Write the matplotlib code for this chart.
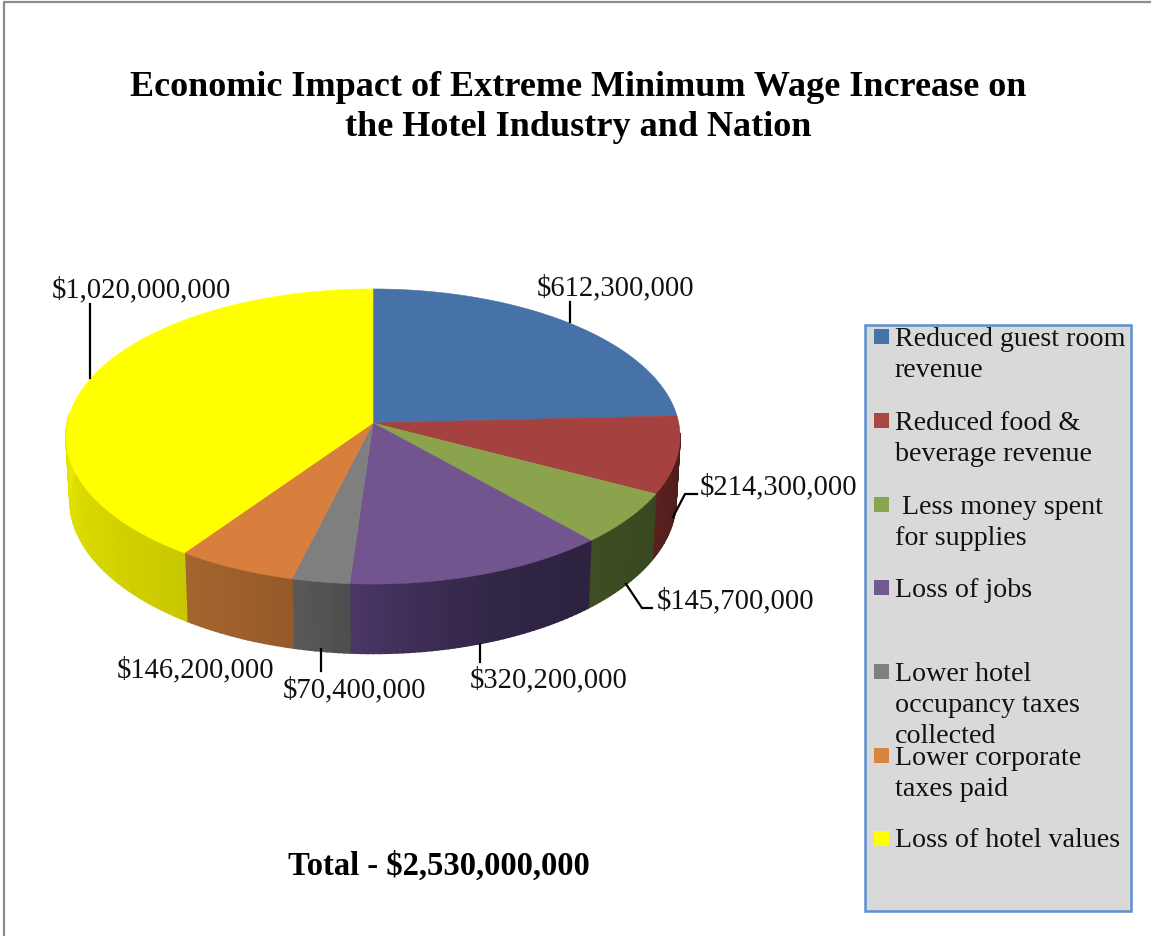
import numpy as np
import matplotlib
matplotlib.use("Agg")
import matplotlib.pyplot as plt
from matplotlib.patches import Rectangle

# Chart data
values = [612300000, 214300000, 145700000, 320200000, 70400000, 146200000, 1020000000]
legend_lines = [
    ["Reduced guest room", "revenue"],
    ["Reduced food &", "beverage revenue"],
    [" Less money spent", "for supplies"],
    ["Loss of jobs"],
    ["Lower hotel", "occupancy taxes", "collected"],
    ["Lower corporate", "taxes paid"],
    ["Loss of hotel values"],
]
title_lines = ["Economic Impact of Extreme Minimum Wage Increase on",
               "the Hotel Industry and Nation"]
total_label = "Total - $2,530,000,000"

# Colours
top_colors = ["#4672a8", "#a5413f", "#8aa34c", "#72548f", "#7f7f7f", "#d97f3d", "#ffff00"]
key_colors = ["#4572a7", "#aa4643", "#89a54e", "#71588f", "#808080", "#db843d", "#ffff00"]
wall_colors = [("#27405f", "#27405f"), ("#4a1c1b", "#5a201f"), ("#384820", "#3f4d22"),
               ("#2d2340", "#4b3768"), ("#4d4d4d", "#5a5a5a"), ("#95592a", "#a5652e"),
               ("#c8c800", "#e8e800")]
wall_bend = [1, 1, 1, 2, 1, 1, 1]

# Pie geometry in pixels, with the perspective of the tilted disc
cx, cy = 373, 424
persp = 0.0915
rx, ry = 305.7, 146.3
depth = 63
base_shrink = 0.987
wall_from, wall_to = np.radians(94), np.radians(274)


def rim(theta, lower=False):
    u, v = np.sin(theta), np.cos(theta)
    w = 1 + persp * v
    x = rx * u / w
    y = ry * v / w
    if lower:
        return cx + x * base_shrink, cy - y + depth / w
    return cx + x, cy - y


def mix(c1, c2, t):
    a, b = np.array(matplotlib.colors.to_rgb(c1)), np.array(matplotlib.colors.to_rgb(c2))
    return a + (b - a) * t


fig = plt.figure(figsize=(11.51, 9.37), dpi=100)
ax = fig.add_axes([0, 0, 1, 1])
ax.set_xlim(0, 1151)
ax.set_ylim(937, 0)
ax.axis("off")

plt.rcParams["font.family"] = ["Liberation Serif", "DejaVu Serif"]
ink = "#111111"

# Outer frame, only top and left edges show
ax.plot([4, 4, 1151], [937, 3, 3], color="#8c8c8c", lw=1.6)

fractions = np.array(values) / np.sum(values)
edges = np.concatenate([[0], np.cumsum(fractions)]) * 2 * np.pi

# Side walls first, only the front of the disc shows one
for i in range(len(values)):
    a, b = max(edges[i], wall_from), min(edges[i + 1], wall_to)
    if a >= b:
        continue
    n = max(int(np.degrees(b - a)), 2)
    ts = np.linspace(a, b, n + 1)
    for j in range(n):
        x0, y0 = rim(ts[j])
        x1, y1 = rim(ts[j + 1])
        x2, y2 = rim(ts[j + 1], True)
        x3, y3 = rim(ts[j], True)
        col = mix(wall_colors[i][0], wall_colors[i][1], ((j + 0.5) / n) ** wall_bend[i])
        ax.fill([x0, x1, x2, x3], [y0, y1, y2, y3], color=col, lw=1.2, zorder=2)

# Top faces
for i in range(len(values)):
    ts = np.linspace(edges[i], edges[i + 1], 200)
    xs, ys = rim(ts)
    ax.fill(np.r_[cx, xs], np.r_[cy, ys], color=top_colors[i], lw=0.4, zorder=3)

# Value labels and leader lines
label_pos = [(616, 288), (779, 487), (736, 601), (549, 680), (355, 690), (196, 670), (141, 290)]
leaders = [
    ([570, 570], [323, 303]),
    ([673, 685, 697], [518, 495, 495]),
    ([626, 642, 652], [585, 609, 609]),
    ([480, 480], [645, 663]),
    ([321, 321], [650, 672]),
    None,
    ([90, 90], [379, 305]),
]
for v, (lx, ly), lead in zip(values, label_pos, leaders):
    ax.text(lx, ly, f"${v:,}", ha="center", va="center", fontsize=20.6, color=ink, zorder=5)
    if lead is not None:
        ax.plot(lead[0], lead[1], color="black", lw=1.6, zorder=4)

# Title and total
for line, ty in zip(title_lines, [87, 127]):
    ax.text(578, ty, line, ha="center", va="center", fontsize=26, fontweight="bold", color="black")
ax.text(439, 866, total_label, ha="center", va="center", fontsize=23.5, fontweight="bold", color="black")

# Legend box
ax.add_patch(Rectangle((865, 326), 266, 586, facecolor="#d9d9d9", edgecolor="#5b8fce", lw=1.8, zorder=2))
key_y = [337, 421, 505, 588, 672, 756, 839]
line_y = [[340, 371], [424, 455], [507, 539], [591], [675, 706, 737], [759, 790], [841]]
for col, ky, lines, ys in zip(key_colors, key_y, legend_lines, line_y):
    ax.add_patch(Rectangle((874, ky - 7.5), 15, 15, facecolor=col, edgecolor="none", zorder=3))
    for line, ly in zip(lines, ys):
        ax.text(895, ly, line, ha="left", va="center", fontsize=20.2, color=ink, zorder=4)

fig.savefig("out.png", dpi=100)
